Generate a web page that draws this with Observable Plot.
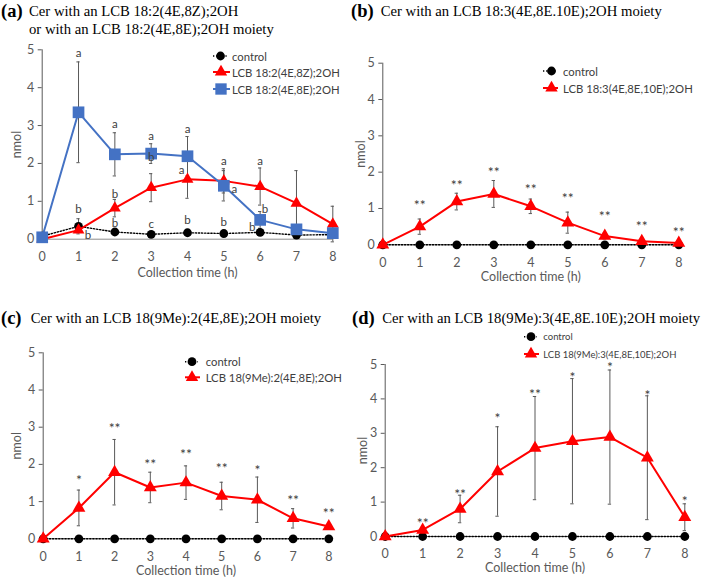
<!DOCTYPE html>
<html><head><meta charset="utf-8">
<script src="https://cdn.jsdelivr.net/npm/d3@7"></script>
<script src="https://cdn.jsdelivr.net/npm/@observablehq/plot@0.6"></script>
<style>
body{margin:0;background:#fff;}
#root{position:relative;width:703px;height:577px;overflow:hidden;background:#fff}
.panel{position:absolute}
#overlay{position:absolute;left:0;top:0}
</style></head><body><div id="root"></div>
<script>
const hours = [0,1,2,3,4,5,6,7,8];
const yTicks = [0,1,2,3,4,5];

// Panel (a)
const aControl    = [0.08,0.34,0.19,0.13,0.17,0.15,0.18,0.11,0.12];
const aControlErr = [0,0.20,0.04,0.03,0.03,0.03,0.04,0.03,0.03];
const aZ          = [0,0.24,0.82,1.36,1.58,1.54,1.39,0.95,0.40];
const aZErr       = [0,0.05,0.23,0.37,0.50,0.32,0.49,0.86,0.47];
const aE          = [0.05,3.35,2.24,2.26,2.19,1.41,0.51,0.26,0.16];
const aEErr       = [0,1.33,0.57,0.26,0.52,0.40,0.22,0.10,0.05];
const aLetterText = ["a","b","b","a","b","b","a","b","c","a","a","b","a","a","b","a","b","b"];
const aLetterX    = [1,1,1.26,2,2,2,3,3,3,4,3.84,4,5,5.29,5,6,6.13,5.78];
const aLetterY    = [4.91,0.80,0.10,3.03,1.18,0.42,2.71,2.15,0.40,2.89,1.81,0.51,2.05,1.32,0.44,2.05,0.80,0.32];

// Panel (b)
const bControl = [0,0,0,0,0,0,0,0,0];
const bRed     = [0,0.50,1.19,1.40,1.06,0.61,0.24,0.10,0.05];
const bErr     = [0,0.21,0.23,0.37,0.20,0.29,0.08,0.04,0.02];
const bStarX   = [1,2,3,4,5,6,7,8];
const bStarText= ["**","**","**","**","**","**","**","**"];
const bStarY   = [1.17,1.74,2.09,1.63,1.36,0.88,0.61,0.44];

// Panel (c)
const cControl = [0,0,0,0,0,0,0,0,0];
const cRed     = [0,0.83,1.79,1.38,1.51,1.15,1.05,0.55,0.33];
const cErr     = [0,0.48,0.88,0.41,0.45,0.37,0.61,0.26,0.04];
const cStarX   = [1,2,3,4,5,6,7,8];
const cStarText= ["*","**","**","**","**","*","**","**"];
const cStarY   = [1.66,3.05,2.09,2.35,1.99,1.94,1.12,0.78];

// Panel (d)
const dControl = [0,0,0,0,0,0,0,0,0];
const dRed     = [0,0.19,0.80,1.89,2.57,2.77,2.89,2.29,0.56];
const dErr     = [0,0.05,0.40,1.30,1.50,1.82,1.95,1.80,0.39];
const dStarX   = [1,2,3,4,5,6,7,8];
const dStarText= ["**","**","*","**","*","*","*","*"];
const dStarY   = [0.47,1.31,3.52,4.22,4.73,5.0,4.2,1.12];

const RED = "#ff0000", BLUE = "#4472c4", BLACK = "#000000", GRAY = "#595959", TXT = "#404040";
const FONT = "Lato, 'Open Sans', sans-serif";

function rowsOf(vals, errs){ return hours.map((x,i)=>({x, v: vals[i], e: errs ? errs[i] : 0})); }

function seriesMarks(rows){
  const er = rows.filter(d=>d.e>0);
  return [
    Plot.ruleX(er, {x:"x", y1:d=>d.v-d.e, y2:d=>d.v+d.e, stroke:GRAY, strokeWidth:1}),
    Plot.ruleY(er, {y:d=>d.v+d.e, x1:d=>d.x-0.045, x2:d=>d.x+0.045, stroke:GRAY, strokeWidth:1}),
    Plot.ruleY(er, {y:d=>d.v-d.e, x1:d=>d.x-0.045, x2:d=>d.x+0.045, stroke:GRAY, strokeWidth:1})
  ];
}
function lineMarks(rows, kind, r){
  if (kind==="control") return [
    Plot.line(rows,{x:"x",y:"v",stroke:BLACK,strokeWidth:1.4,strokeDasharray:"1.3,1.8"}),
    Plot.dot(rows,{x:"x",y:"v",r:r||4.4,fill:BLACK,stroke:"none"})
  ];
  if (kind==="red") return [
    Plot.line(rows,{x:"x",y:"v",stroke:RED,strokeWidth:2}),
    Plot.dot(rows,{x:"x",y:"v",symbol:"triangle",r:r||4.4,fill:RED,stroke:"none"})
  ];
  return [
    Plot.line(rows,{x:"x",y:"v",stroke:BLUE,strokeWidth:2}),
    Plot.dot(rows,{x:"x",y:"v",symbol:"square",r:r||6.6,fill:BLUE,stroke:"none"})
  ];
}

function panel(cfg){
  const marks = [];
  marks.push(Plot.ruleY([0],{stroke:"#8c8c8c",strokeWidth:1}));
  marks.push(Plot.ruleX([0],{stroke:"#595959",strokeWidth:1}));
  marks.push(Plot.axisY({ticks:yTicks, tickSize:4, tickPadding:4, tickFormat:d=>String(d), fontSize:12.5, fill:GRAY, stroke:"#595959",
    label:"nmol", labelAnchor:"center", labelOffset:cfg.ly, labelArrow:"none"}));
  marks.push(Plot.axisX({ticks:hours, tickSize:0, tickPadding:cfg.tp||13, tickFormat:d=>String(d), fontSize:12.5, fill:GRAY,
    label:"Collection time (h)", labelAnchor:"center", labelOffset:cfg.lx, labelArrow:"none"}));
  const all = cfg.series.map(s=>({rows: rowsOf(s.vals, s.errs), kind: s.kind, r: s.r}));
  for (const s of all) marks.push(...seriesMarks(s.rows));
  for (const s of all) marks.push(...lineMarks(s.rows, s.kind, s.r));
  if (cfg.stars) {
    const st = cfg.stars.x.map((x,i)=>({x, y: cfg.stars.y[i], t: cfg.stars.t[i]}));
    marks.push(Plot.text(st,{x:"x",y:"y",text:"t",fontSize:14,fill:TXT,lineAnchor:"middle",dy:3.5}));
  }
  if (cfg.letters) {
    const lt = cfg.letters.x.map((x,i)=>({x, y: cfg.letters.y[i], t: cfg.letters.t[i]}));
    marks.push(Plot.text(lt,{x:"x",y:"y",text:"t",fontSize:11.5,fill:TXT,lineAnchor:"middle"}));
  }
  const p = Plot.plot({
    width: cfg.w, height: cfg.h,
    marginLeft: cfg.ml, marginRight: cfg.mr, marginTop: cfg.mt, marginBottom: cfg.mb,
    x:{domain:[0,8]}, y:{domain:[0,5]},
    style:{fontFamily:FONT, fontSize:"12.5px", color:TXT, background:"transparent", overflow:"visible"},
    marks
  });
  const div = document.createElement("div");
  div.className = "panel";
  div.style.left = cfg.left+"px"; div.style.top = cfg.top+"px";
  div.appendChild(p);
  return div;
}

const root = document.getElementById("root");
root.appendChild(panel({left:0, top:0, w:350, h:290, ml:41.7, mr:17.7, mt:49.3, mb:51.3, ly:30.5, lx:38,
  series:[{vals:aControl, errs:aControlErr, kind:"control"},{vals:aZ, errs:aZErr, kind:"red"},{vals:aE, errs:aEErr, kind:"blue"}],
  letters:{x:aLetterX, y:aLetterY, t:aLetterText}}));
root.appendChild(panel({left:350, top:0, w:353, h:290, ml:32.3, mr:24.7, mt:62.7, mb:45.7, ly:27, lx:36,
  series:[{vals:bControl, kind:"control"},{vals:bRed, errs:bErr, kind:"red", r:4.8}],
  stars:{x:bStarX, y:bStarY, t:bStarText}}));
root.appendChild(panel({left:0, top:290, w:350, h:287, ml:42.7, mr:21.7, mt:62.3, mb:38.7, ly:31, lx:36,
  series:[{vals:cControl, kind:"control"},{vals:cRed, errs:cErr, kind:"red", r:4.8}],
  stars:{x:cStarX, y:cStarY, t:cStarText}}));
root.appendChild(panel({left:350, top:290, w:353, h:287, ml:34.7, mr:18.7, mt:74, mb:41, ly:27.4, lx:35.7,
  series:[{vals:dControl, kind:"control"},{vals:dRed, errs:dErr, kind:"red", r:4.8}],
  stars:{x:dStarX, y:dStarY, t:dStarText}}));

// Overlay: titles and legends
const NS = "http://www.w3.org/2000/svg";
const ov = document.createElementNS(NS,"svg");
ov.setAttribute("id","overlay"); ov.setAttribute("width",703); ov.setAttribute("height",577);
root.appendChild(ov);
function txt(x,y,s,attrs){ const t=document.createElementNS(NS,"text"); t.setAttribute("x",x); t.setAttribute("y",y); t.textContent=s;
  for (const k in attrs) t.setAttribute(k,attrs[k]); ov.appendChild(t); return t; }
const serif = "'Liberation Serif','Times New Roman',serif";
const tag = {"font-family":serif,"font-size":18.5,"font-weight":"bold",fill:"#000"};
const ttl = {"font-family":serif,"font-size":14.7,fill:"#000"};
txt(1,16.5,"(a)",tag); txt(29,16,"Cer with an LCB 18:2(4E,8Z);2OH",ttl); txt(29,34,"or with an LCB 18:2(4E,8E);2OH moiety",ttl);
txt(351,16.5,"(b)",tag); txt(380.7,15.5,"Cer with an LCB 18:3(4E,8E.10E);2OH moiety",ttl);
txt(1,324,"(c)",tag); txt(30.7,323.3,"Cer with an LCB 18(9Me):2(4E,8E);2OH moiety",ttl);
txt(352,324,"(d)",tag); txt(382.3,323.3,"Cer with an LCB 18(9Me):3(4E,8E.10E);2OH moiety",ttl);

function legendRow(x1,x2,mx,tx,y,kind,label,fs){
  const l=document.createElementNS(NS,"line");
  l.setAttribute("x1",x1); l.setAttribute("x2",x2); l.setAttribute("y1",y); l.setAttribute("y2",y);
  if (kind==="control"){ l.setAttribute("stroke","#000"); l.setAttribute("stroke-width",1.4); l.setAttribute("stroke-dasharray","1.3,1.8"); }
  else { l.setAttribute("stroke", kind==="red"?RED:BLUE); l.setAttribute("stroke-width",2); }
  ov.appendChild(l);
  const p=document.createElementNS(NS,"path");
  const sym = kind==="control"?d3.symbolCircle:kind==="red"?d3.symbolTriangle:d3.symbolSquare;
  const rr = kind==="control"?4.4:kind==="red"?4.6:6.4;
  p.setAttribute("d", d3.symbol(sym, Math.PI*rr*rr)());
  p.setAttribute("transform",`translate(${mx},${y})`);
  p.setAttribute("fill", kind==="control"?"#000":kind==="red"?RED:BLUE);
  ov.appendChild(p);
  txt(tx,y,label,{"font-family":FONT,"font-size":fs||11.3,fill:TXT,"dominant-baseline":"central"});
}
legendRow(213,228,220.5,232,56,"control","control");
legendRow(213,230,221,232,72,"red","LCB 18:2(4E,8Z);2OH");
legendRow(213,230,221,232,89,"blue","LCB 18:2(4E,8E);2OH");
legendRow(543,556,551.5,563,71,"control","control");
legendRow(543,558,551.5,563,88,"red","LCB 18:3(4E,8E,10E);2OH");
legendRow(185,198,192,205.7,361.7,"control","control");
legendRow(185,200,192,205.7,377.3,"red","LCB 18(9Me):2(4E,8E);2OH");
legendRow(524,537,531,543.3,336.7,"control","control",9.5);
legendRow(524,539,531,543.3,354,"red","LCB 18(9Me):3(4E,8E,10E);2OH",9.5);
</script></body></html>
